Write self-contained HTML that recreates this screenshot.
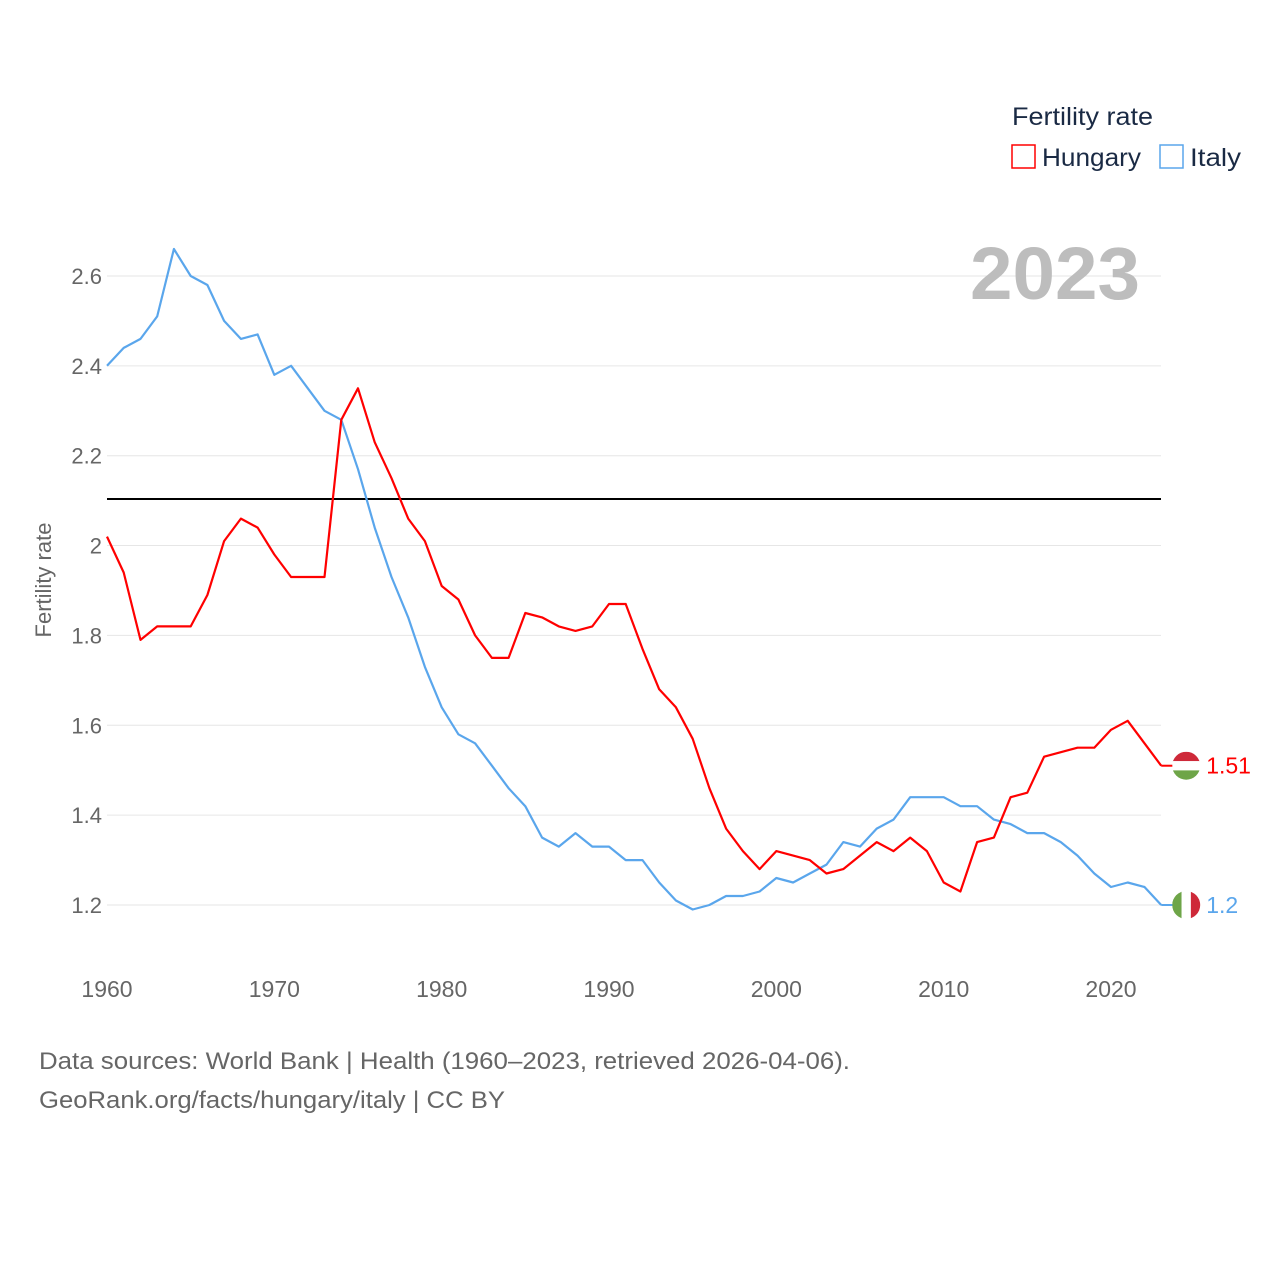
<!DOCTYPE html>
<html><head><meta charset="utf-8"><style>
body{margin:0;background:#fff;font-family:"Liberation Sans",sans-serif;}
svg text{font-family:"Liberation Sans",sans-serif;}
</style></head><body>
<svg id="chart" width="1280" height="1280" viewBox="0 0 1280 1280" xmlns="http://www.w3.org/2000/svg">
<rect width="1280" height="1280" fill="#fff"/>
<g id="grid"></g>
<g id="yticks"></g>
<g id="xticks"></g>
<text x="970" y="299" textLength="170" lengthAdjust="spacingAndGlyphs" font-size="74" font-weight="bold" fill="#bdbdbd">2023</text>
<text transform="translate(51,580) rotate(-90)" text-anchor="middle" font-size="22" fill="#666">Fertility rate</text>
<line x1="107" x2="1161" y1="499" y2="499" stroke="#000" stroke-width="2"/>
<g id="series"></g>
<g>
<text x="1012" y="125" textLength="141" lengthAdjust="spacingAndGlyphs" font-size="25" fill="#1a2a44">Fertility rate</text>
<rect x="1012" y="145" width="23" height="23" fill="none" stroke="#f00" stroke-width="1.5"/>
<text x="1042" y="166" textLength="99" lengthAdjust="spacingAndGlyphs" font-size="25" fill="#1a2a44">Hungary</text>
<rect x="1160" y="145" width="23" height="23" fill="none" stroke="#5aa6ec" stroke-width="1.5"/>
<text x="1190" y="166" textLength="51" lengthAdjust="spacingAndGlyphs" font-size="25" fill="#1a2a44">Italy</text>
</g>
<text x="39" y="1069" textLength="811" lengthAdjust="spacingAndGlyphs" font-size="24" fill="#666">Data sources: World Bank | Health (1960–2023, retrieved 2026-04-06).</text>
<text x="39" y="1108" textLength="466" lengthAdjust="spacingAndGlyphs" font-size="24" fill="#666">GeoRank.org/facts/hungary/italy | CC BY</text>
</svg>
<script>
const years=[];for(let y=1960;y<=2023;y++)years.push(y);
const hungary=[2.02,1.94,1.79,1.82,1.82,1.82,1.89,2.01,2.06,2.04,1.98,1.93,1.93,1.93,2.28,2.35,2.23,2.15,2.06,2.01,1.91,1.88,1.80,1.75,1.75,1.85,1.84,1.82,1.81,1.82,1.87,1.87,1.77,1.68,1.64,1.57,1.46,1.37,1.32,1.28,1.32,1.31,1.30,1.27,1.28,1.31,1.34,1.32,1.35,1.32,1.25,1.23,1.34,1.35,1.44,1.45,1.53,1.54,1.55,1.55,1.59,1.61,1.56,1.51];
const italy=[2.40,2.44,2.46,2.51,2.66,2.60,2.58,2.50,2.46,2.47,2.38,2.40,2.35,2.30,2.28,2.17,2.04,1.93,1.84,1.73,1.64,1.58,1.56,1.51,1.46,1.42,1.35,1.33,1.36,1.33,1.33,1.30,1.30,1.25,1.21,1.19,1.20,1.22,1.22,1.23,1.26,1.25,1.27,1.29,1.34,1.33,1.37,1.39,1.44,1.44,1.44,1.42,1.42,1.39,1.38,1.36,1.36,1.34,1.31,1.27,1.24,1.25,1.24,1.20];
const yTicks=[1.2,1.4,1.6,1.8,2,2.2,2.4,2.6];
const xTicks=[1960,1970,1980,1990,2000,2010,2020];
const NS="http://www.w3.org/2000/svg";
const X=y=>107+(y-1960)*1004/60;
const Y=v=>905-(v-1.2)*449.3;
function el(t,a,p){const e=document.createElementNS(NS,t);for(const k in a)e.setAttribute(k,a[k]);p.appendChild(e);return e;}
const grid=document.getElementById('grid'),yt=document.getElementById('yticks'),xt=document.getElementById('xticks'),ser=document.getElementById('series');
yTicks.forEach(v=>{
 const l=el('line',{x1:107,x2:1161,y1:Y(v),y2:Y(v),stroke:'#e6e6e6','stroke-width':1},grid);
 
 
 const t=el('text',{x:102,y:Y(v)+8,'text-anchor':'end','font-size':22,fill:'#666'},yt);t.textContent=String(v);
 
 
});
xTicks.forEach(v=>{
 const t=el('text',{x:X(v),y:997,'text-anchor':'middle','font-size':23,fill:'#666'},xt);t.textContent=String(v);
 
 
});
function line(vals,color,name){
 const d=vals.map((v,i)=>(i?'L':'M')+X(years[i]).toFixed(1)+','+Y(v).toFixed(1)).join('');
 const p=el('path',{d:d,fill:'none',stroke:color,'stroke-width':2.2,'stroke-linejoin':'round'},ser);
 
 
}
line(italy,'#5aa6ec','italy-line');
line(hungary,'#f00','hungary-line');
function endLabel(vals,color,name,flag){
 const v=vals[vals.length-1],x=X(years[years.length-1]),y=Y(v);
 const c=el('line',{x1:x,x2:x+12,y1:y,y2:y,stroke:color,'stroke-width':2},ser);
 
 
 const g=el('g',{},ser);
 
 
 const cx=x+25,r=14;
 const clip=el('clipPath',{id:'c'+name},g);el('circle',{cx:cx,cy:y,r:r},clip);
 const gg=el('g',{'clip-path':'url(#c'+name+')'},g);
 if(flag==='hu'){['#ce2939','#fff','#6ea548'].forEach((f,i)=>el('rect',{x:cx-r,y:y-r+i*2*r/3,width:2*r,height:2*r/3+0.5,fill:f},gg));}
 else{['#6ea548','#fff','#ce2939'].forEach((f,i)=>el('rect',{x:cx-r+i*2*r/3,y:y-r,width:2*r/3+0.5,height:2*r,fill:f},gg));}
 const t=el('text',{x:cx+20,y:y+8,'font-size':23,fill:color},ser);t.textContent=String(v);
 
 
}
endLabel(hungary,'#f00','hungary','hu');
endLabel(italy,'#5aa6ec','italy','it');
</script>
</body></html>
